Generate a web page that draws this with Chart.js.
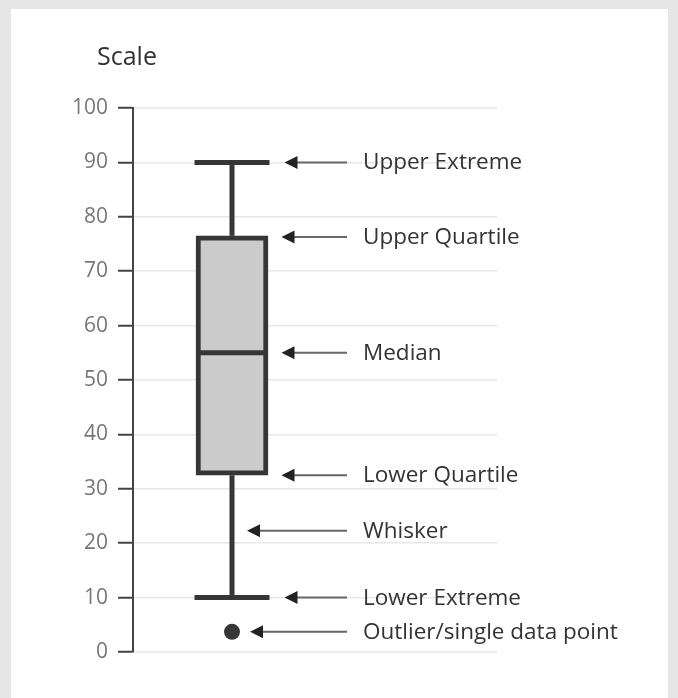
<!DOCTYPE html>
<html>
<head>
<meta charset="utf-8">
<script src="https://cdn.jsdelivr.net/npm/chart.js@4"></script>
<style>
  html, body { margin: 0; padding: 0; background: #e6e6e6; }
  #wrap { position: relative; width: 678px; height: 698px; }
  #panel { position: absolute; left: 11px; top: 9px; width: 657px; height: 689px; background: #fff; }
  #holder { position: absolute; left: 0; top: 0; width: 678px; height: 698px; }
</style>
</head>
<body>
<div id="wrap">
  <div id="panel"></div>
  <div id="holder"><canvas id="chart"></canvas></div>
</div>
<script>
// box plot values
const lowerExtreme = 10;
const lowerQuartile = 32.5;
const median = 55;
const upperQuartile = 76.5;
const upperExtreme = 90;
const outliers = [3.7];

// the box sits at this spot on a hidden 0-10 x scale
const boxX = 2.72;
const capHalf = 1.03;

const yTicks = [0, 10, 20, 30, 40, 50, 60, 70, 80, 90, 100];

// callouts on the right
const calloutValues = [90, 76.3, 55, 32.5, 22.3, 10, 3.7];
const calloutTexts = ["Upper Extreme", "Upper Quartile", "Median", "Lower Quartile",
  "Whisker", "Lower Extreme", "Outlier/single data point"];
const calloutKind = ["cap", "box", "box", "box", "line", "cap", "dot"];

const DARK = "#363636";

function seg(x1, y1, x2, y2) {
  return [{x: x1, y: y1}, {x: x2, y: y2}];
}

const lineDefaults = {
  type: "line",
  order: 0,
  borderColor: DARK,
  borderWidth: 5,
  borderCapStyle: "butt",
  pointRadius: 0,
  fill: false,
  tension: 0
};

const calloutPlugin = {
  id: "callouts",
  afterDraw(chart) {
    const ctx = chart.ctx;
    const xs = chart.scales.x, ys = chart.scales.y;
    const cx = xs.getPixelForValue(boxX);
    const capRight = xs.getPixelForValue(boxX + capHalf);
    const tail = 347;
    const textX = 363;

    ctx.save();
    // axis caption
    ctx.fillStyle = "#333";
    ctx.font = "25px 'Open Sans'";
    ctx.textAlign = "left";
    ctx.textBaseline = "alphabetic";
    ctx.fillText("Scale", 97, 65);

    calloutValues.forEach((v, i) => {
      const y = ys.getPixelForValue(v);
      let tip;
      if (calloutKind[i] === "cap") tip = capRight + 15;
      else if (calloutKind[i] === "box") tip = capRight + 12;
      else if (calloutKind[i] === "dot") tip = cx + 18;
      else tip = cx + 15;

      ctx.strokeStyle = "#666";
      ctx.lineWidth = 2;
      ctx.beginPath();
      ctx.moveTo(tip + 8, y);
      ctx.lineTo(tail, y);
      ctx.stroke();

      ctx.fillStyle = "#222";
      ctx.beginPath();
      ctx.moveTo(tip, y);
      ctx.lineTo(tip + 13, y - 6.5);
      ctx.lineTo(tip + 13, y + 6.5);
      ctx.closePath();
      ctx.fill();

      ctx.fillStyle = "#333";
      ctx.font = "22.5px 'Open Sans'";
      ctx.fillText(calloutTexts[i], textX, y + 7);
    });
    ctx.restore();
  }
};

new Chart(document.getElementById("chart"), {
  type: "bar",
  data: {
    datasets: [
      {
        type: "bar",
        order: 5,
        data: [{x: boxX, y: [lowerQuartile, upperQuartile]}],
        backgroundColor: "#cbcbcb",
        borderColor: DARK,
        borderWidth: 5,
        borderSkipped: false,
        barThickness: 72
      },
      {...lineDefaults, data: seg(boxX, upperQuartile, boxX, upperExtreme)},
      {...lineDefaults, data: seg(boxX, lowerExtreme, boxX, lowerQuartile)},
      {...lineDefaults, data: seg(boxX - capHalf, upperExtreme, boxX + capHalf, upperExtreme)},
      {...lineDefaults, data: seg(boxX - capHalf, lowerExtreme, boxX + capHalf, lowerExtreme)},
      {...lineDefaults, data: seg(boxX - 0.92, median, boxX + 0.92, median)},
      {
        type: "scatter",
        order: 0,
        data: outliers.map(v => ({x: boxX, y: v})),
        pointRadius: 8,
        pointHoverRadius: 8,
        backgroundColor: DARK,
        borderWidth: 0
      }
    ]
  },
  options: {
    responsive: true,
    maintainAspectRatio: false,
    devicePixelRatio: 1,
    animation: false,
    events: [],
    layout: { padding: { left: 0, top: 108, right: 181, bottom: 46 } },
    plugins: { legend: { display: false }, tooltip: { enabled: false }, title: { display: false } },
    scales: {
      x: { type: "linear", min: 0, max: 10, offset: false, display: false },
      y: {
        type: "linear",
        min: 0,
        max: 100,
        afterBuildTicks: s => { s.ticks = yTicks.map(v => ({value: v})); },
        afterFit: s => { s.width = 133; },
        grid: { color: "#e8e8e8", lineWidth: 1.5, tickLength: 15, tickColor: "#444", tickWidth: 2 },
        border: { color: "#444", width: 2 },
        ticks: { color: "#777", padding: 10, font: { family: "'Open Sans'", size: 21 } }
      }
    }
  },
  plugins: [calloutPlugin]
});
</script>
</body>
</html>
